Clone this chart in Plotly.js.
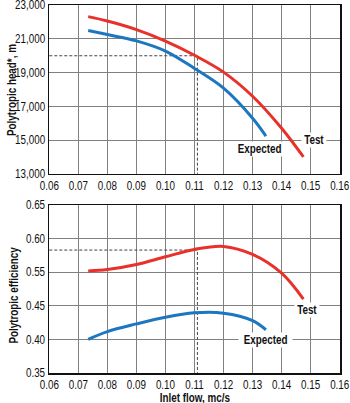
<!DOCTYPE html>
<html><head><meta charset="utf-8">
<script src="https://cdn.plot.ly/plotly-3.0.1.min.js"></script>
<style>html,body{margin:0;padding:0;background:#fff}#c{width:350px;height:403px}</style>
</head><body><div id="c"></div>
<script>
// Head curves (x = inlet flow, y = polytropic head m)
const testFlow = [0.0734, 0.08, 0.09, 0.10, 0.11, 0.12, 0.13, 0.14, 0.1475];
const testHead = [22320, 22060, 21550, 20870, 20030, 19030, 17600, 15700, 14000];
const expFlow = [0.0734, 0.08, 0.09, 0.10, 0.11, 0.12, 0.13, 0.1346];
const expHead = [21500, 21260, 20880, 20280, 19250, 18080, 16300, 15240];
// Efficiency curves
const testEffFlow = [0.0734, 0.08, 0.09, 0.10, 0.11, 0.12, 0.13, 0.14, 0.1475];
const testEff = [0.552, 0.554, 0.5615, 0.573, 0.584, 0.5885, 0.5765, 0.5485, 0.5098];
const expEffFlow = [0.0734, 0.08, 0.09, 0.10, 0.11, 0.12, 0.13, 0.1346];
const expEff = [0.400, 0.4115, 0.423, 0.433, 0.4395, 0.439, 0.428, 0.4143];
// Design point
const designFlow = 0.111, designHead = 20000, designEff = 0.583;
// Axis ticks
const xTicks = [0.06,0.07,0.08,0.09,0.10,0.11,0.12,0.13,0.14,0.15,0.16];
const headTicks = [13000,15000,17000,19000,21000,23000];
const effTicks = [0.35,0.40,0.45,0.55,0.60,0.65];

// broken efficiency axis: 0.35-0.45 lower segment, 0.55-0.65 upper segment
function effPos(v){ return v >= 0.5 ? 3 + (v-0.55)/0.05 : (v-0.35)/0.05; }

const RED = '#e8312b', BLUE = '#1c77c0';
const F = '"Liberation Sans", Arial, sans-serif';
const dash = {color:'#444', width:1, dash:'3px,2px'};

const traces = [
 {x:[0.06, designFlow, designFlow], y:[designHead, designHead, 13000], xaxis:'x', yaxis:'y', mode:'lines', line:dash},
 {x:testFlow, y:testHead, xaxis:'x', yaxis:'y', mode:'lines', line:{color:RED, width:3, shape:'spline'}},
 {x:expFlow, y:expHead, xaxis:'x', yaxis:'y', mode:'lines', line:{color:BLUE, width:3, shape:'spline'}},
 {x:[0.06, designFlow, designFlow], y:[designEff, designEff, 0.35].map(effPos), xaxis:'x2', yaxis:'y2', mode:'lines', line:dash},
 {x:testEffFlow, y:testEff.map(effPos), xaxis:'x2', yaxis:'y2', mode:'lines', line:{color:RED, width:3, shape:'spline'}},
 {x:expEffFlow, y:expEff.map(effPos), xaxis:'x2', yaxis:'y2', mode:'lines', line:{color:BLUE, width:3, shape:'spline'}}
];

const tf = {family:F, size:12, color:'#111'};
const xa = {range:[0.0599,0.1601], tickvals:xTicks, ticktext:xTicks.map(v=>v.toFixed(2)),
  showgrid:true, gridcolor:'#808080', gridwidth:1, showline:true, linecolor:'#111', linewidth:1.5, mirror:true,
  zeroline:false, ticks:'', tickfont:tf, ticklabeloverflow:'allow', fixedrange:true};
const layout = {
  width:350, height:403, margin:{l:49, r:10, t:5, b:30},
  paper_bgcolor:'#fff', plot_bgcolor:'#fff', showlegend:false,
  xaxis:Object.assign({}, xa, {anchor:'y'}),
  xaxis2:Object.assign({}, xa, {anchor:'y2'}),
  yaxis:{domain:[0.5408,1], range:[12990,23010], tickvals:headTicks, ticktext:headTicks.map(v=>v.toLocaleString('en-US')),
    showgrid:true, gridcolor:'#808080', showline:true, linecolor:'#111', linewidth:1.5, mirror:true, zeroline:false,
    ticks:'', tickfont:tf, ticklabeloverflow:'allow'},
  yaxis2:{domain:[0,0.4565], range:[-0.003,5.003], tickvals:effTicks.map(effPos), ticktext:effTicks.map(v=>v.toFixed(2)),
    showgrid:true, gridcolor:'#808080', showline:true, linecolor:'#111', linewidth:1.5, mirror:true, zeroline:false,
    ticks:'', tickfont:tf, ticklabeloverflow:'allow'},
  annotations:[
    {xref:'paper', yref:'paper', x:-0.127, y:0.769, text:'<b>Polytropic head*, m</b>', textangle:-90, showarrow:false,
     font:tf, xanchor:'center', yanchor:'middle'},
    {xref:'paper', yref:'paper', x:-0.122, y:0.213, text:'<b>Polytropic efficiency</b>', textangle:-90, showarrow:false,
     font:tf, xanchor:'center', yanchor:'middle'},
    {xref:'paper', yref:'paper', x:0.5, y:-0.067, text:'<b>Inlet flow, mc/s</b>', showarrow:false,
     font:tf, xanchor:'center', yanchor:'middle'},
    {xref:'x', yref:'y', x:0.1513, y:15000, text:'<b>Test</b>', showarrow:false, bgcolor:'#fff', font:tf, borderpad:0},
    {xref:'x', yref:'y', x:0.1324, y:14480, text:'<b>Expected</b>', showarrow:false, bgcolor:'#fff', font:tf, borderpad:0},
    {xref:'x2', yref:'y2', x:0.1487, y:effPos(0.444), text:'<b>Test</b>', showarrow:false, bgcolor:'#fff', font:tf, borderpad:0},
    {xref:'x2', yref:'y2', x:0.1344, y:effPos(0.3985), text:'<b>Expected</b>', showarrow:false, bgcolor:'#fff', font:tf, borderpad:0}
  ]
};
Plotly.newPlot('c', traces, layout, {staticPlot:true, displayModeBar:false}).then(function(gd){
  // emulate a narrow (condensed) typeface by compressing glyphs horizontally
  gd.querySelectorAll('svg text').forEach(function(t){
    const L = t.getComputedTextLength();
    if (L > 0) { t.setAttribute('textLength', (L*0.82).toFixed(2)); t.setAttribute('lengthAdjust', 'spacingAndGlyphs'); }
  });
});
</script></body></html>
